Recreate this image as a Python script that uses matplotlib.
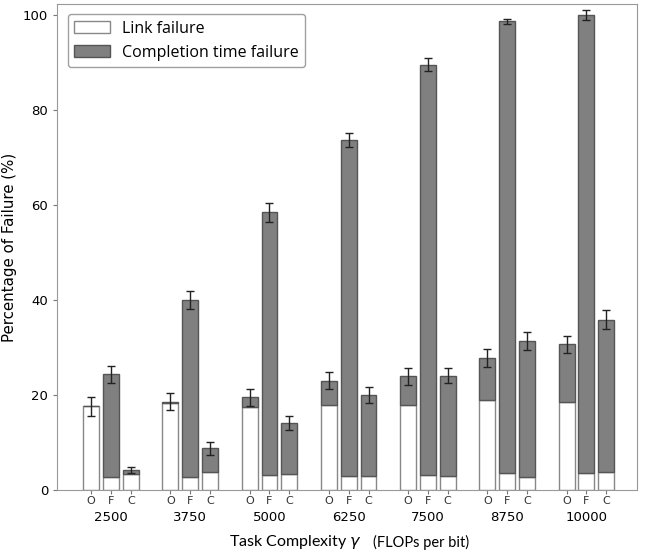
import numpy as np
import matplotlib
matplotlib.use("Agg")
import matplotlib.pyplot as plt
import matplotlib.transforms as mtransforms

complexity = ["2500", "3750", "5000", "6250", "7500", "8750", "10000"]
schemes = ["O", "F", "C"]

# link failure (white part), per scheme
link_O = [17.7, 18.3, 17.5, 18.0, 17.9, 18.9, 18.6]
link_F = [2.8, 2.7, 3.2, 3.0, 3.2, 3.6, 3.6]
link_C = [3.4, 3.8, 3.4, 3.0, 3.0, 2.8, 3.8]

# total failure (top of bar)
total_O = [17.7, 18.6, 19.5, 23.0, 24.0, 27.9, 30.7]
total_F = [24.4, 40.0, 58.5, 73.7, 89.5, 98.6, 100.0]
total_C = [4.2, 8.8, 14.2, 20.0, 24.1, 31.4, 35.8]

# error (+/-) on total
err_O = [2.0, 1.8, 1.8, 1.8, 1.8, 1.9, 1.8]
err_F = [1.8, 1.9, 2.0, 1.5, 1.4, 0.6, 1.0]
err_C = [0.6, 1.3, 1.5, 1.7, 1.6, 1.9, 2.0]

links = [link_O, link_F, link_C]
totals = [total_O, total_F, total_C]
errs = [err_O, err_F, err_C]

fig = plt.figure(figsize=(6.49, 5.52), dpi=100)
ax = fig.add_axes([0.088, 0.112, 0.894, 0.881])

width = 0.8
xs_all = []
for k in range(3):
    x = np.arange(len(complexity)) * 4 + k
    xs_all.append(x)
    lk = np.array(links[k])
    tot = np.array(totals[k])
    ax.bar(x, lk, width, color="white", edgecolor="#888888", linewidth=1,
           label="Link failure" if k == 0 else None)
    ax.bar(x, tot - lk, width, bottom=lk, color="#808080", edgecolor="#555555",
           linewidth=1, label="Completion time failure" if k == 0 else None)
    ax.errorbar(x, tot, yerr=errs[k], fmt="none", ecolor="#222222",
                elinewidth=1, capsize=3, capthick=1)

xs = np.concatenate(xs_all)
labs = [schemes[k] for k in range(3) for _ in complexity]
order = np.argsort(xs)
ax.set_xticks(xs[order])
ax.set_xticklabels(np.array(labs)[order], fontsize=8, color="#333333")
ax.tick_params(axis="x", length=3, pad=1.5, color="#777777")
ax.tick_params(axis="y", labelsize=9.5, length=3, color="#777777")

trans = mtransforms.blended_transform_factory(ax.transData, ax.transAxes)
for g, lab in enumerate(complexity):
    ax.text(g * 4 + 1, -0.056, lab, transform=trans, ha="center", va="center",
            fontsize=9.5)

ax.set_xlim(-1.72, 27.57)
ax.set_ylim(0, 102.3)
ax.set_yticks([0, 20, 40, 60, 80, 100])

for s in ax.spines.values():
    s.set_color("#999999")

ax.set_ylabel("Percentage of Failure (%)", fontsize=10.8)
fig.text(0.558, 0.018, r"Task Complexity $\gamma$", ha="right", va="center",
         fontsize=11.5, family="Lato")
fig.text(0.575, 0.018, "(FLOPs per bit)", ha="left", va="center", fontsize=10.5,
         family="Lato")

ax.legend(loc="upper left", prop={"family": "Open Sans", "size": 11.5},
          frameon=True, edgecolor="#888888", fancybox=True,
          handlelength=2.2, borderpad=0.4, bbox_to_anchor=(0.005, 0.995))

fig.savefig("out.png", dpi=100)
